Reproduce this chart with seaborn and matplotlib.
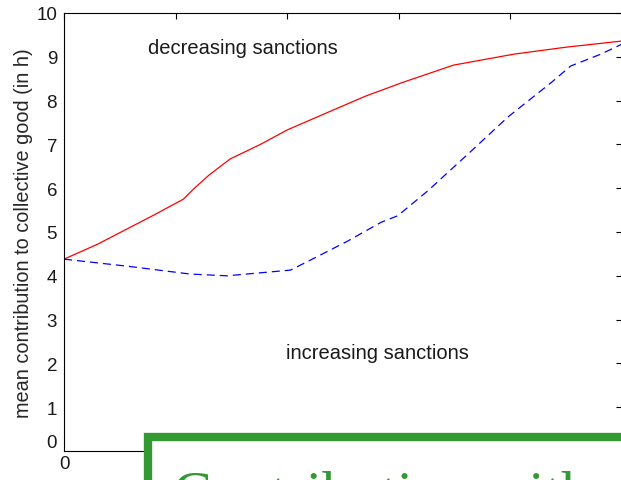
import matplotlib
matplotlib.use("Agg")
import matplotlib.pyplot as plt
from matplotlib.patches import Rectangle
import pandas as pd
import seaborn as sns

# Mean contribution under the two sanction regimes
x_decreasing = [0.0, 0.3, 0.565, 0.8, 1.07, 1.16, 1.3, 1.49, 1.76, 2.0, 2.39, 2.7, 3.04, 3.49, 4.03, 4.5, 5.0]
y_decreasing = [4.38, 4.72, 5.07, 5.38, 5.75, 5.98, 6.30, 6.67, 7.00, 7.33, 7.76, 8.10, 8.42, 8.81, 9.06, 9.22, 9.36]

x_increasing = [0.0, 0.565, 1.13, 1.46, 2.03, 2.24, 2.54, 2.84, 2.99, 3.26, 3.62, 3.98, 4.37, 4.54, 4.81, 5.0]
y_increasing = [4.38, 4.22, 4.04, 4.00, 4.13, 4.40, 4.79, 5.22, 5.37, 5.94, 6.78, 7.63, 8.42, 8.79, 9.06, 9.29]

y_ticks = list(range(0, 11))
x_ticks = [0, 1, 2, 3, 4, 5]
x_tick_labels = ["0", "", "", "", "", ""]

label_decreasing = "decreasing sanctions"
label_increasing = "increasing sanctions"
y_label = "mean contribution to collective good (in h)"
caption = "Contribution with sanctions"

sns.set_style("white")
plt.rcParams["font.family"] = ["Liberation Sans", "DejaVu Sans"]
plt.rcParams["lines.scale_dashes"] = False

df = pd.concat([
    pd.DataFrame({"x": x_decreasing, "y": y_decreasing, "regime": label_decreasing}),
    pd.DataFrame({"x": x_increasing, "y": y_increasing, "regime": label_increasing}),
])

W, H = 621, 481
fig = plt.figure(figsize=(W / 100, H / 100), dpi=100)
fig.patch.set_facecolor("white")
ax = fig.add_axes([64 / W, 1 - 452 / H, 558 / W, 438 / H])

sns.lineplot(data=df, x="x", y="y", hue="regime", style="regime",
             palette={label_decreasing: "#ff0000", label_increasing: "#0000ff"},
             dashes={label_decreasing: "", label_increasing: (5.8, 3.6)},
             linewidth=0.9, legend=False, estimator=None, sort=False, ax=ax)

ax.set_xlim(0, 5)
ax.set_ylim(0, 10)
ax.set_yticks(y_ticks)
ax.set_xticks(x_ticks)
ax.set_xticklabels(x_tick_labels)
ax.set_xlabel("")
ax.set_ylabel(y_label, fontsize=14.3, labelpad=2)
ax.tick_params(direction="in", length=4, width=0.8, colors="black",
               labelsize=13.5, pad=5, top=True, right=True,
               labelcolor="#1a1a1a")
ax.tick_params(axis="x", pad=3)
for s in ax.spines.values():
    s.set_visible(True)
    s.set_color("black")
    s.set_linewidth(0.8)
fig.canvas.draw()
ax.get_yticklabels()[0].set_va("bottom")

ax.text(1.60, 9.22, label_decreasing, fontsize=14.5, ha="center", va="center", color="#1a1a1a")
ax.text(2.81, 2.26, label_increasing, fontsize=14.5, ha="center", va="center", color="#1a1a1a")

# Caption panel overlapping the lower part of the chart
green = "#339933"
fig.add_artist(Rectangle((147.5 / W, 1 - 540 / H), 600 / W, 102 / H,
                         transform=fig.transFigure, facecolor="white",
                         edgecolor=green, linewidth=6, zorder=5))
fig.text(173 / W, 1 - 511 / H, caption, fontsize=42, color=green,
         family=["Liberation Serif", "DejaVu Serif"], ha="left", va="baseline", zorder=6)

fig.savefig("out.png", dpi=100)
